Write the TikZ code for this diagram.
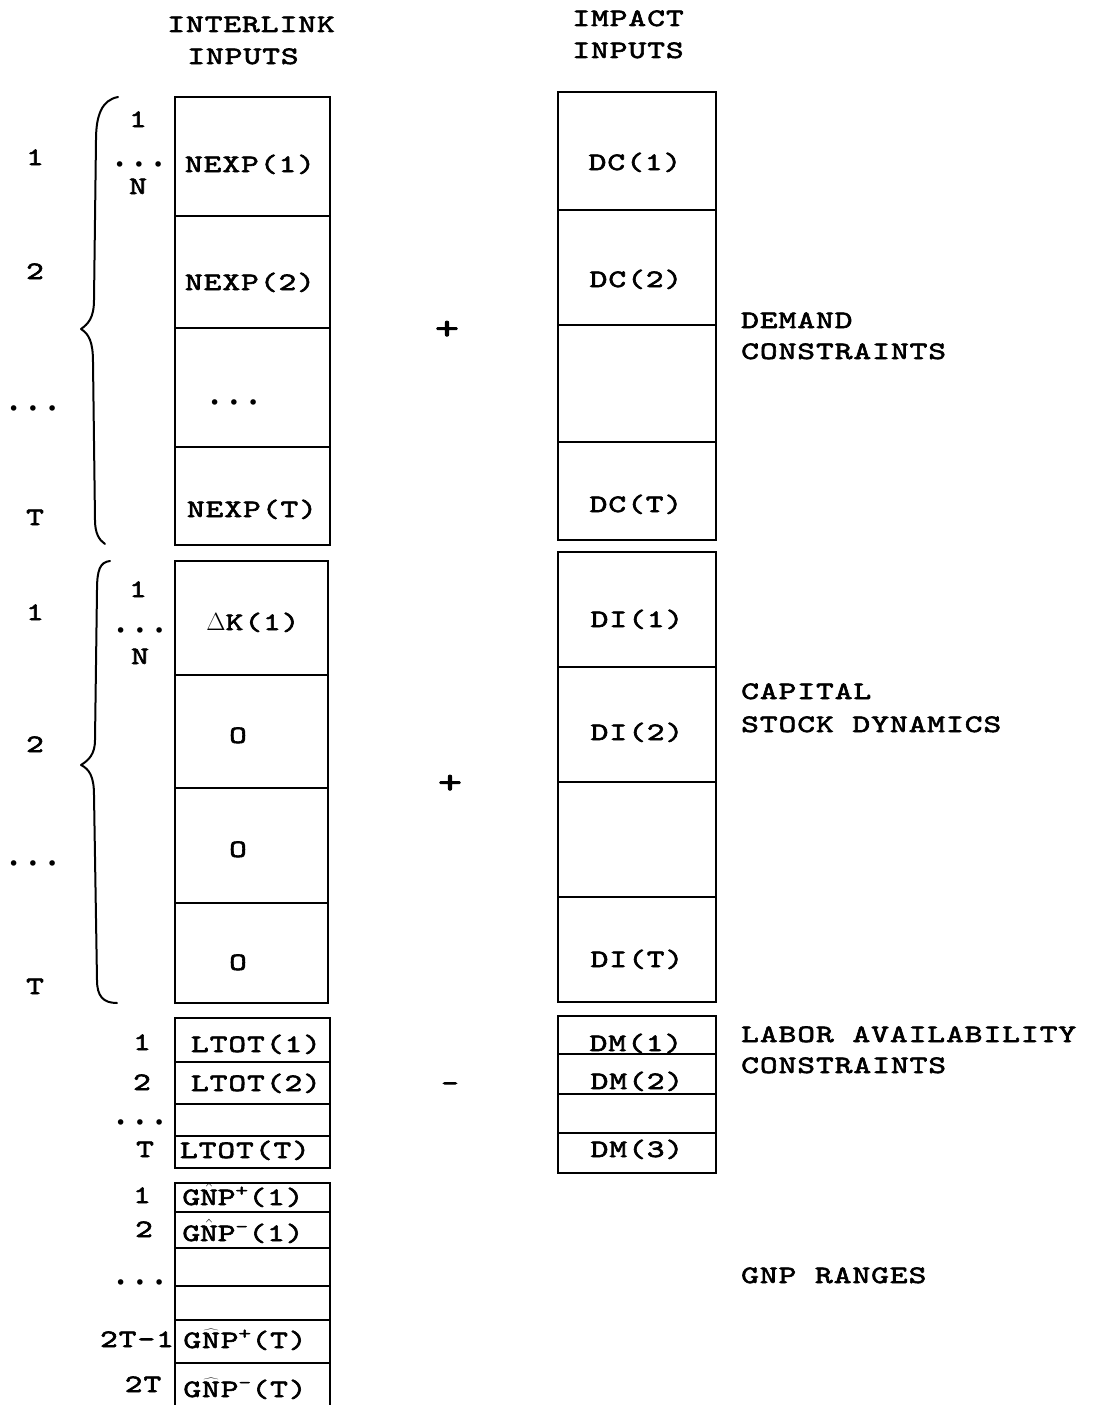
\documentclass[tikz,border=0pt]{standalone}
\usepackage{fontspec}
\newfontfamily\twf[FakeStretch=1.35,LetterSpace=4,FakeBold=2.5]{lmmono10-regular.otf}
\newfontfamily\dvs{DejaVu Sans}
\newcommand\tw{\twf\fontsize{25}{28}\selectfont}
\newcommand\dts{\raisebox{-4.5pt}{\dvs\fontsize{19}{19}\selectfont •\hspace{8pt}•\hspace{8pt}•}}
\tikzset{
 cellbox/.style={draw, line width=2pt, inner sep=0pt, outer sep=0pt, rectangle},
 lab/.style={font=\tw, inner sep=0pt, anchor=base},
 labw/.style={font=\tw, inner sep=0pt, anchor=base west},
 opr/.style={font=\twf\fontsize{34}{36}\selectfont, inner sep=0pt, anchor=center},
 brace/.style={line width=2pt, line cap=round, line join=round}
}
\newcommand\cell[5]{\node[cellbox, minimum width={#4-#2}, minimum height={#5-#3}] (#1) at ({(#2+#4)/2},{(#3+#5)/2}) {};}
\begin{document}
\begin{tikzpicture}[x=1pt,y=-1pt]
\clip (0,0) rectangle (1101,1405);
\fill[white] (0,0) rectangle (1101,1405);
% headers
\node[lab] (h1) at (251,32) {INTERLINK};
\node[lab] (h2) at (243,64) {INPUTS};
\node[lab] (h3) at (628,26) {IMPACT};
\node[lab] (h4) at (628,58) {INPUTS};
% left section A
\cell{la1}{175}{97}{330}{216}
\cell{la2}{175}{216}{330}{328}
\cell{la3}{175}{328}{330}{447}
\cell{la4}{175}{447}{330}{545}
\node[lab] (tla1) at (250,172) {NEXP(1)};
\node[lab] (tla2) at (250,290) {NEXP(2)};
\node[lab] (tla3) at (234,405) {\dts};
\node[lab] (tla4) at (252,517) {NEXP(T)};
% left section B
\cell{lb1}{175}{561}{328}{675}
\cell{lb2}{175}{675}{328}{788}
\cell{lb3}{175}{788}{328}{903}
\cell{lb4}{175}{903}{328}{1003}
\node[lab] (tlb1) at (253,630) {$\Delta$K(1)};
\node[lab] (tlb2) at (238,743) {O};
\node[lab] (tlb3) at (238,857) {O};
\node[lab] (tlb4) at (238,970) {O};
% left section C
\cell{lc1}{175}{1018}{330}{1062}
\cell{lc2}{175}{1062}{330}{1104}
\cell{lc3}{175}{1104}{330}{1136}
\cell{lc4}{175}{1136}{330}{1168}
\node[lab] (tlc1) at (256,1052) {LTOT(1)};
\node[lab] (tlc2) at (256,1091) {LTOT(2)};
\node[lab] (tlc4) at (245,1158) {LTOT(T)};
% left section D
\cell{ld1}{175}{1183}{330}{1212}
\cell{ld2}{175}{1212}{330}{1248}
\cell{ld3}{175}{1248}{330}{1286}
\cell{ld4}{175}{1286}{330}{1320}
\cell{ld5}{175}{1320}{330}{1363}
\cell{ld6}{175}{1363}{330}{1420}
\node[lab] (tld1) at (243,1205) {G$\hat{\mbox{N}}$P\textsuperscript{+}(1)};
\node[lab] (tld2) at (243,1241) {G$\hat{\mbox{N}}$P\textsuperscript{-}(1)};
\node[lab] (tld5) at (245,1348) {$\widehat{\mbox{GNP}}$\textsuperscript{+}(T)};
\node[lab] (tld6) at (245,1397) {$\widehat{\mbox{GNP}}$\textsuperscript{-}(T)};
% right section A
\cell{ra1}{558}{92}{716}{210}
\cell{ra2}{558}{210}{716}{325}
\cell{ra3}{558}{325}{716}{442}
\cell{ra4}{558}{442}{716}{540}
\node[lab] (tra1) at (635,170) {DC(1)};
\node[lab] (tra2) at (636,287) {DC(2)};
\node[lab] (tra4) at (636,512) {DC(T)};
% right section B
\cell{rb1}{558}{552}{716}{667}
\cell{rb2}{558}{667}{716}{782}
\cell{rb3}{558}{782}{716}{897}
\cell{rb4}{558}{897}{716}{1002}
\node[lab] (trb1) at (637,627) {DI(1)};
\node[lab] (trb2) at (637,740) {DI(2)};
\node[lab] (trb4) at (637,967) {DI(T)};
% right section C
\cell{rc1}{558}{1016}{716}{1054}
\cell{rc2}{558}{1054}{716}{1094}
\cell{rc3}{558}{1094}{716}{1133}
\cell{rc4}{558}{1133}{716}{1173}
\node[lab] (trc1) at (636,1051) {DM(1)};
\node[lab] (trc2) at (637,1089) {DM(2)};
\node[lab] (trc4) at (637,1157) {DM(3)};
% right labels
\node[labw] (g1a) at (741,328) {DEMAND};
\node[labw] (g1b) at (741,359) {CONSTRAINTS};
\node[labw] (g2a) at (741,699) {CAPITAL};
\node[labw] (g2b) at (741,732) {STOCK DYNAMICS};
\node[labw] (g3a) at (741,1042) {LABOR AVAILABILITY};
\node[labw] (g3b) at (741,1073) {CONSTRAINTS};
\node[labw] (g4) at (741,1283) {GNP RANGES};
% operators
\node[opr] (op1) at (447,330) {+};
\node[opr] (op2) at (450,784) {+};
\node[lab] (op3) at (450,1091) {-};
% left margin indices
\node[lab] (m1) at (35,165) {1};
\node[lab] (m2) at (35,279) {2};
\node[lab] (m3) at (33,411) {\dts};
\node[lab] (m4) at (35,525) {T};
\node[lab] (m5) at (35,620) {1};
\node[lab] (m6) at (35,752) {2};
\node[lab] (m7) at (33,866) {\dts};
\node[lab] (m8) at (35,994) {T};
% sub indices
\node[lab] (s1) at (138,127) {1};
\node[lab] (s2) at (139,167) {\dts};
\node[lab] (s3) at (138,194) {N};
\node[lab] (s4) at (138,597) {1};
\node[lab] (s5) at (140,633) {\dts};
\node[lab] (s6) at (140,664) {N};
\node[lab] (c1) at (142,1050) {1};
\node[lab] (c2) at (142,1090) {2};
\node[lab] (c3) at (140,1125) {\dts};
\node[lab] (c4) at (145,1157) {T};
\node[lab] (d1) at (142,1203) {1};
\node[lab] (d2) at (144,1237) {2};
\node[lab] (d3) at (140,1285) {\dts};
\node[lab] (d4) at (137,1347) {2T-1};
\node[lab] (d5) at (143,1392) {2T};
% braces
\draw[brace] (118,97) .. controls (102,100) and (96,115) .. (96,140) -- (94,300) .. controls (94,318) and (88,324) .. (81,329)
  .. controls (89,334) and (93,342) .. (93,362) -- (95,520) .. controls (95,533) and (99,540) .. (105,544);
\draw[brace] (110,561) .. controls (100,562) and (97,570) .. (97,590) -- (95,740) .. controls (95,754) and (89,760) .. (81,765)
  .. controls (89,769) and (94,776) .. (94,795) -- (97,980) .. controls (97,996) and (103,1003) .. (117,1003);
\end{tikzpicture}
\end{document}
